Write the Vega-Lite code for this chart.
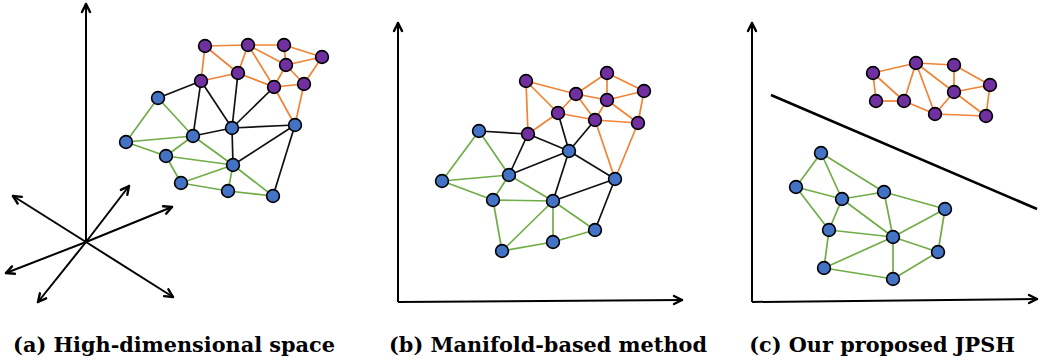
{
  "$schema": "https://vega.github.io/schema/vega-lite/v6.json",
  "width": 1041,
  "height": 361,
  "padding": 0,
  "autosize": {"type": "fit", "contains": "padding"},
  "background": "white",
  "config": {"view": {"stroke": null}},
  "datasets": {
    "nodes": [
      {"id": "aP1", "x": 205, "y": 46, "cls": "purple"},
      {"id": "aP2", "x": 248, "y": 45, "cls": "purple"},
      {"id": "aP3", "x": 284, "y": 45, "cls": "purple"},
      {"id": "aP4", "x": 322, "y": 57, "cls": "purple"},
      {"id": "aP5", "x": 286, "y": 65, "cls": "purple"},
      {"id": "aP6", "x": 238, "y": 73, "cls": "purple"},
      {"id": "aP7", "x": 201, "y": 81, "cls": "purple"},
      {"id": "aP8", "x": 274, "y": 87, "cls": "purple"},
      {"id": "aP9", "x": 304, "y": 84, "cls": "purple"},
      {"id": "aB1", "x": 158, "y": 98, "cls": "blue"},
      {"id": "aB2", "x": 232, "y": 128, "cls": "blue"},
      {"id": "aB3", "x": 295, "y": 125, "cls": "blue"},
      {"id": "aB4", "x": 193, "y": 136, "cls": "blue"},
      {"id": "aB5", "x": 126, "y": 142, "cls": "blue"},
      {"id": "aB6", "x": 166, "y": 156, "cls": "blue"},
      {"id": "aB7", "x": 233, "y": 165, "cls": "blue"},
      {"id": "aB8", "x": 181, "y": 183, "cls": "blue"},
      {"id": "aB9", "x": 228, "y": 191, "cls": "blue"},
      {"id": "aB10", "x": 273, "y": 196, "cls": "blue"},
      {"id": "bP1", "x": 526, "y": 81, "cls": "purple"},
      {"id": "bP2", "x": 607, "y": 73, "cls": "purple"},
      {"id": "bP3", "x": 644, "y": 91, "cls": "purple"},
      {"id": "bP4", "x": 576, "y": 94, "cls": "purple"},
      {"id": "bP5", "x": 607, "y": 100, "cls": "purple"},
      {"id": "bP6", "x": 558, "y": 113, "cls": "purple"},
      {"id": "bP7", "x": 595, "y": 120, "cls": "purple"},
      {"id": "bP8", "x": 638, "y": 123, "cls": "purple"},
      {"id": "bP9", "x": 528, "y": 134, "cls": "purple"},
      {"id": "bB1", "x": 479, "y": 131, "cls": "blue"},
      {"id": "bB2", "x": 569, "y": 151, "cls": "blue"},
      {"id": "bB3", "x": 615, "y": 179, "cls": "blue"},
      {"id": "bB4", "x": 509, "y": 175, "cls": "blue"},
      {"id": "bB5", "x": 442, "y": 181, "cls": "blue"},
      {"id": "bB6", "x": 493, "y": 200, "cls": "blue"},
      {"id": "bB7", "x": 553, "y": 201, "cls": "blue"},
      {"id": "bB8", "x": 595, "y": 230, "cls": "blue"},
      {"id": "bB9", "x": 553, "y": 242, "cls": "blue"},
      {"id": "bB10", "x": 502, "y": 251, "cls": "blue"},
      {"id": "cP1", "x": 873, "y": 73, "cls": "purple"},
      {"id": "cP2", "x": 916, "y": 63, "cls": "purple"},
      {"id": "cP3", "x": 954, "y": 65, "cls": "purple"},
      {"id": "cP4", "x": 990, "y": 85, "cls": "purple"},
      {"id": "cP5", "x": 954, "y": 92, "cls": "purple"},
      {"id": "cP6", "x": 876, "y": 101, "cls": "purple"},
      {"id": "cP7", "x": 904, "y": 101, "cls": "purple"},
      {"id": "cP8", "x": 935, "y": 114, "cls": "purple"},
      {"id": "cP9", "x": 986, "y": 116, "cls": "purple"},
      {"id": "cB1", "x": 821, "y": 153, "cls": "blue"},
      {"id": "cB2", "x": 796, "y": 187, "cls": "blue"},
      {"id": "cB3", "x": 842, "y": 199, "cls": "blue"},
      {"id": "cB4", "x": 884, "y": 192, "cls": "blue"},
      {"id": "cB5", "x": 945, "y": 209, "cls": "blue"},
      {"id": "cB6", "x": 829, "y": 230, "cls": "blue"},
      {"id": "cB7", "x": 893, "y": 237, "cls": "blue"},
      {"id": "cB8", "x": 938, "y": 252, "cls": "blue"},
      {"id": "cB9", "x": 824, "y": 268, "cls": "blue"},
      {"id": "cB10", "x": 893, "y": 279, "cls": "blue"}
    ],
    "edges": [
      {"s": "aP1", "t": "aP2", "k": "purple"},
      {"s": "aP2", "t": "aP3", "k": "purple"},
      {"s": "aP3", "t": "aP4", "k": "purple"},
      {"s": "aP1", "t": "aP7", "k": "purple"},
      {"s": "aP1", "t": "aP6", "k": "purple"},
      {"s": "aP2", "t": "aP6", "k": "purple"},
      {"s": "aP2", "t": "aP8", "k": "purple"},
      {"s": "aP2", "t": "aP5", "k": "purple"},
      {"s": "aP3", "t": "aP5", "k": "purple"},
      {"s": "aP5", "t": "aP4", "k": "purple"},
      {"s": "aP5", "t": "aP8", "k": "purple"},
      {"s": "aP5", "t": "aP9", "k": "purple"},
      {"s": "aP4", "t": "aP9", "k": "purple"},
      {"s": "aP6", "t": "aP7", "k": "purple"},
      {"s": "aP6", "t": "aP8", "k": "purple"},
      {"s": "aP8", "t": "aP9", "k": "purple"},
      {"s": "aP8", "t": "aB3", "k": "purple"},
      {"s": "aP9", "t": "aB3", "k": "purple"},
      {"s": "aP7", "t": "aB1", "k": "cross"},
      {"s": "aP7", "t": "aB4", "k": "cross"},
      {"s": "aP7", "t": "aB2", "k": "cross"},
      {"s": "aP6", "t": "aB2", "k": "cross"},
      {"s": "aP8", "t": "aB2", "k": "cross"},
      {"s": "aB4", "t": "aB2", "k": "cross"},
      {"s": "aB2", "t": "aB3", "k": "cross"},
      {"s": "aB2", "t": "aB7", "k": "cross"},
      {"s": "aB7", "t": "aB3", "k": "cross"},
      {"s": "aB3", "t": "aB10", "k": "cross"},
      {"s": "aB1", "t": "aB5", "k": "blue"},
      {"s": "aB1", "t": "aB4", "k": "blue"},
      {"s": "aB5", "t": "aB4", "k": "blue"},
      {"s": "aB5", "t": "aB6", "k": "blue"},
      {"s": "aB4", "t": "aB6", "k": "blue"},
      {"s": "aB4", "t": "aB7", "k": "blue"},
      {"s": "aB6", "t": "aB7", "k": "blue"},
      {"s": "aB6", "t": "aB8", "k": "blue"},
      {"s": "aB8", "t": "aB7", "k": "blue"},
      {"s": "aB7", "t": "aB9", "k": "blue"},
      {"s": "aB9", "t": "aB8", "k": "blue"},
      {"s": "aB9", "t": "aB10", "k": "blue"},
      {"s": "aB7", "t": "aB10", "k": "blue"},
      {"s": "bP1", "t": "bP4", "k": "purple"},
      {"s": "bP1", "t": "bP9", "k": "purple"},
      {"s": "bP1", "t": "bP6", "k": "purple"},
      {"s": "bP4", "t": "bP2", "k": "purple"},
      {"s": "bP4", "t": "bP5", "k": "purple"},
      {"s": "bP4", "t": "bP7", "k": "purple"},
      {"s": "bP9", "t": "bP6", "k": "purple"},
      {"s": "bP6", "t": "bP4", "k": "purple"},
      {"s": "bP2", "t": "bP5", "k": "purple"},
      {"s": "bP2", "t": "bP3", "k": "purple"},
      {"s": "bP5", "t": "bP3", "k": "purple"},
      {"s": "bP5", "t": "bP8", "k": "purple"},
      {"s": "bP3", "t": "bP8", "k": "purple"},
      {"s": "bP5", "t": "bP7", "k": "purple"},
      {"s": "bP6", "t": "bP7", "k": "purple"},
      {"s": "bP7", "t": "bP8", "k": "purple"},
      {"s": "bP7", "t": "bB3", "k": "purple"},
      {"s": "bP8", "t": "bB3", "k": "purple"},
      {"s": "bB1", "t": "bP9", "k": "cross"},
      {"s": "bP9", "t": "bB2", "k": "cross"},
      {"s": "bP9", "t": "bB4", "k": "cross"},
      {"s": "bP6", "t": "bB2", "k": "cross"},
      {"s": "bP7", "t": "bB2", "k": "cross"},
      {"s": "bB4", "t": "bB2", "k": "cross"},
      {"s": "bB2", "t": "bB3", "k": "cross"},
      {"s": "bB2", "t": "bB7", "k": "cross"},
      {"s": "bB7", "t": "bB3", "k": "cross"},
      {"s": "bB3", "t": "bB8", "k": "cross"},
      {"s": "bB1", "t": "bB5", "k": "blue"},
      {"s": "bB1", "t": "bB4", "k": "blue"},
      {"s": "bB5", "t": "bB4", "k": "blue"},
      {"s": "bB5", "t": "bB6", "k": "blue"},
      {"s": "bB4", "t": "bB6", "k": "blue"},
      {"s": "bB4", "t": "bB7", "k": "blue"},
      {"s": "bB6", "t": "bB7", "k": "blue"},
      {"s": "bB6", "t": "bB10", "k": "blue"},
      {"s": "bB7", "t": "bB10", "k": "blue"},
      {"s": "bB7", "t": "bB9", "k": "blue"},
      {"s": "bB10", "t": "bB9", "k": "blue"},
      {"s": "bB9", "t": "bB8", "k": "blue"},
      {"s": "bB7", "t": "bB8", "k": "blue"},
      {"s": "cP1", "t": "cP2", "k": "purple"},
      {"s": "cP2", "t": "cP3", "k": "purple"},
      {"s": "cP3", "t": "cP4", "k": "purple"},
      {"s": "cP3", "t": "cP5", "k": "purple"},
      {"s": "cP4", "t": "cP5", "k": "purple"},
      {"s": "cP4", "t": "cP9", "k": "purple"},
      {"s": "cP5", "t": "cP9", "k": "purple"},
      {"s": "cP5", "t": "cP8", "k": "purple"},
      {"s": "cP2", "t": "cP5", "k": "purple"},
      {"s": "cP2", "t": "cP8", "k": "purple"},
      {"s": "cP2", "t": "cP7", "k": "purple"},
      {"s": "cP1", "t": "cP6", "k": "purple"},
      {"s": "cP1", "t": "cP7", "k": "purple"},
      {"s": "cP6", "t": "cP7", "k": "purple"},
      {"s": "cP7", "t": "cP8", "k": "purple"},
      {"s": "cP8", "t": "cP9", "k": "purple"},
      {"s": "cB1", "t": "cB2", "k": "blue"},
      {"s": "cB1", "t": "cB3", "k": "blue"},
      {"s": "cB1", "t": "cB4", "k": "blue"},
      {"s": "cB2", "t": "cB3", "k": "blue"},
      {"s": "cB2", "t": "cB6", "k": "blue"},
      {"s": "cB3", "t": "cB4", "k": "blue"},
      {"s": "cB3", "t": "cB6", "k": "blue"},
      {"s": "cB3", "t": "cB7", "k": "blue"},
      {"s": "cB4", "t": "cB7", "k": "blue"},
      {"s": "cB4", "t": "cB5", "k": "blue"},
      {"s": "cB5", "t": "cB7", "k": "blue"},
      {"s": "cB5", "t": "cB8", "k": "blue"},
      {"s": "cB6", "t": "cB7", "k": "blue"},
      {"s": "cB7", "t": "cB8", "k": "blue"},
      {"s": "cB7", "t": "cB9", "k": "blue"},
      {"s": "cB7", "t": "cB10", "k": "blue"},
      {"s": "cB6", "t": "cB9", "k": "blue"},
      {"s": "cB9", "t": "cB10", "k": "blue"},
      {"s": "cB10", "t": "cB8", "k": "blue"}
    ],
    "axes": [
      {"x": 86, "y": 242, "x2": 86, "y2": 4, "w": "axis"},
      {"x": 86, "y": 242, "x2": 13, "y2": 196, "w": "axis"},
      {"x": 86, "y": 242, "x2": 129, "y2": 186, "w": "axis"},
      {"x": 86, "y": 242, "x2": 172, "y2": 207, "w": "axis"},
      {"x": 86, "y": 242, "x2": 6, "y2": 273, "w": "axis"},
      {"x": 86, "y": 242, "x2": 38, "y2": 302, "w": "axis"},
      {"x": 86, "y": 242, "x2": 173, "y2": 297, "w": "axis"},
      {"x": 398, "y": 302, "x2": 398, "y2": 23, "w": "axis"},
      {"x": 398, "y": 302, "x2": 682, "y2": 300, "w": "axis"},
      {"x": 752, "y": 302, "x2": 752, "y2": 23, "w": "axis"},
      {"x": 752, "y": 302, "x2": 1037, "y2": 299, "w": "axis"},
      {"x": 771, "y": 95, "x2": 1037, "y2": 209, "w": "boundary"}
    ],
    "heads": [
      {"x": 86, "y": 4, "x2": 82, "y2": 12},
      {"x": 86, "y": 4, "x2": 90, "y2": 12},
      {"x": 13, "y": 196, "x2": 21.9, "y2": 196.9},
      {"x": 13, "y": 196, "x2": 17.7, "y2": 203.6},
      {"x": 129, "y": 186, "x2": 127.3, "y2": 194.8},
      {"x": 129, "y": 186, "x2": 120.9, "y2": 189.9},
      {"x": 172, "y": 207, "x2": 166.1, "y2": 213.7},
      {"x": 172, "y": 207, "x2": 163.1, "y2": 206.3},
      {"x": 6, "y": 273, "x2": 12.0, "y2": 266.4},
      {"x": 6, "y": 273, "x2": 14.9, "y2": 273.8},
      {"x": 38, "y": 302, "x2": 39.9, "y2": 293.3},
      {"x": 38, "y": 302, "x2": 46.1, "y2": 298.3},
      {"x": 173, "y": 297, "x2": 164.1, "y2": 296.1},
      {"x": 173, "y": 297, "x2": 168.4, "y2": 289.3},
      {"x": 398, "y": 23, "x2": 394, "y2": 31},
      {"x": 398, "y": 23, "x2": 402, "y2": 31},
      {"x": 682, "y": 300, "x2": 674, "y2": 296},
      {"x": 682, "y": 300, "x2": 674, "y2": 304},
      {"x": 752, "y": 23, "x2": 748, "y2": 31},
      {"x": 752, "y": 23, "x2": 756, "y2": 31},
      {"x": 1037, "y": 299, "x2": 1029, "y2": 295},
      {"x": 1037, "y": 299, "x2": 1029, "y2": 303}
    ],
    "labels": [
      {"x": 174, "y": 352, "label": "(a) High-dimensional space"},
      {"x": 548, "y": 352, "label": "(b) Manifold-based method"},
      {"x": 882, "y": 352, "label": "(c) Our proposed JPSH"}
    ]
  },
  "resolve": {"scale": {"color": "independent", "strokeWidth": "independent"}},
  "layer": [
    {
      "data": {"name": "axes"},
      "mark": {"type": "rule", "color": "black", "strokeCap": "butt"},
      "encoding": {
        "x": {"field": "x", "type": "quantitative", "scale": {"domain": [0, 1041], "nice": false, "zero": false}, "axis": null},
        "y": {"field": "y", "type": "quantitative", "scale": {"domain": [0, 361], "nice": false, "zero": false, "reverse": true}, "axis": null},
        "x2": {"field": "x2"},
        "y2": {"field": "y2"},
        "strokeWidth": {"field": "w", "type": "nominal", "scale": {"domain": ["axis", "boundary"], "range": [2, 2.6]}, "legend": null}
      }
    },
    {
      "data": {"name": "heads"},
      "mark": {"type": "rule", "color": "black", "strokeWidth": 2.4, "strokeCap": "round"},
      "encoding": {
        "x": {"field": "x", "type": "quantitative", "scale": {"domain": [0, 1041], "nice": false, "zero": false}, "axis": null},
        "y": {"field": "y", "type": "quantitative", "scale": {"domain": [0, 361], "nice": false, "zero": false, "reverse": true}, "axis": null},
        "x2": {"field": "x2"},
        "y2": {"field": "y2"}
      }
    },
    {
      "data": {"name": "edges"},
      "transform": [
        {"lookup": "s", "from": {"data": {"name": "nodes"}, "key": "id", "fields": ["x", "y"]}, "as": ["sx", "sy"]},
        {"lookup": "t", "from": {"data": {"name": "nodes"}, "key": "id", "fields": ["x", "y"]}, "as": ["tx", "ty"]}
      ],
      "mark": {"type": "rule", "strokeWidth": 1.7},
      "encoding": {
        "x": {"field": "sx", "type": "quantitative", "scale": {"domain": [0, 1041], "nice": false, "zero": false}, "axis": null},
        "y": {"field": "sy", "type": "quantitative", "scale": {"domain": [0, 361], "nice": false, "zero": false, "reverse": true}, "axis": null},
        "x2": {"field": "tx"},
        "y2": {"field": "ty"},
        "color": {"field": "k", "type": "nominal", "scale": {"domain": ["purple", "blue", "cross"], "range": ["#F08436", "#70AD47", "#111111"]}, "legend": null}
      }
    },
    {
      "data": {"name": "nodes"},
      "mark": {"type": "point", "filled": true, "size": 165, "stroke": "black", "strokeWidth": 1.6, "opacity": 1},
      "encoding": {
        "x": {"field": "x", "type": "quantitative", "scale": {"domain": [0, 1041], "nice": false, "zero": false}, "axis": null},
        "y": {"field": "y", "type": "quantitative", "scale": {"domain": [0, 361], "nice": false, "zero": false, "reverse": true}, "axis": null},
        "fill": {"field": "cls", "type": "nominal", "scale": {"domain": ["purple", "blue"], "range": ["#7030A0", "#4472C4"]}, "legend": null}
      }
    },
    {
      "data": {"name": "labels"},
      "mark": {"type": "text", "font": "DejaVu Serif", "fontWeight": "bold", "fontSize": 20.8, "color": "black", "align": "center", "baseline": "alphabetic"},
      "encoding": {
        "x": {"field": "x", "type": "quantitative", "scale": {"domain": [0, 1041], "nice": false, "zero": false}, "axis": null},
        "y": {"field": "y", "type": "quantitative", "scale": {"domain": [0, 361], "nice": false, "zero": false, "reverse": true}, "axis": null},
        "text": {"field": "label"}
      }
    }
  ]
}
